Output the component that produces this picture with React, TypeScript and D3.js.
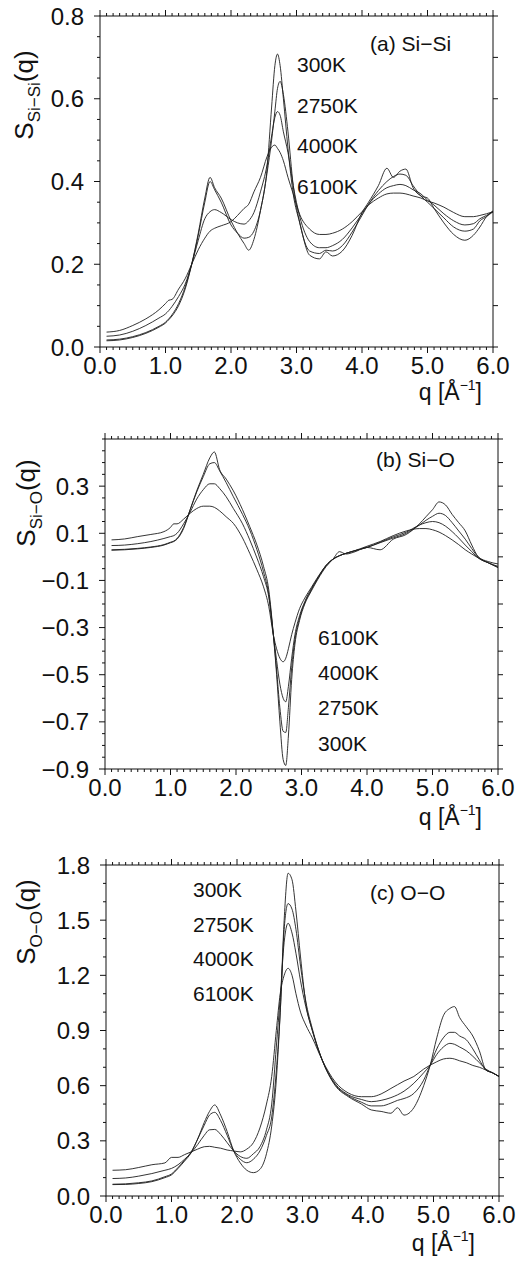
import React from "react";
import * as d3 from "d3";

const FONT = "'Liberation Sans', Arial, Helvetica, sans-serif";

// ---------------- Panel (a) Si-Si ----------------
const qA = [0.1, 0.3, 0.5, 0.7, 0.9, 1.0, 1.05, 1.1, 1.2, 1.3, 1.4, 1.5, 1.6, 1.68, 1.75, 1.85, 2.0, 2.1, 2.2, 2.27, 2.35, 2.45, 2.55, 2.62, 2.67, 2.71, 2.75, 2.8, 2.87, 2.95, 3.05, 3.2, 3.35, 3.45, 3.55, 3.7, 3.85, 4.0, 4.1, 4.25, 4.38, 4.48, 4.58, 4.67, 4.78, 4.9, 5.0, 5.1, 5.25, 5.4, 5.57, 5.7, 5.8, 5.9, 6.0];
const siSi300 = [0.015, 0.017, 0.023, 0.033, 0.048, 0.058, 0.066, 0.075, 0.1, 0.14, 0.2, 0.275, 0.36, 0.41, 0.385, 0.36, 0.305, 0.275, 0.25, 0.234, 0.26, 0.33, 0.43, 0.58, 0.68, 0.708, 0.68, 0.6, 0.48, 0.37, 0.3, 0.222, 0.213, 0.23, 0.22, 0.232, 0.27, 0.325, 0.35, 0.39, 0.432, 0.41, 0.425, 0.43, 0.385, 0.365, 0.36, 0.335, 0.3, 0.272, 0.258, 0.27, 0.29, 0.315, 0.329];
const siSi2750 = [0.017, 0.019, 0.025, 0.035, 0.05, 0.06, 0.068, 0.078, 0.105, 0.145, 0.2, 0.27, 0.35, 0.4, 0.38, 0.35, 0.295, 0.275, 0.263, 0.265, 0.28, 0.33, 0.42, 0.5, 0.57, 0.625, 0.642, 0.61, 0.52, 0.39, 0.3, 0.232, 0.226, 0.234, 0.232, 0.245, 0.278, 0.318, 0.345, 0.378, 0.4, 0.412, 0.418, 0.415, 0.39, 0.365, 0.35, 0.335, 0.312, 0.29, 0.28, 0.285, 0.305, 0.315, 0.327];
const siSi4000 = [0.026, 0.029, 0.038, 0.052, 0.07, 0.08, 0.088, 0.098, 0.122, 0.152, 0.2, 0.258, 0.31, 0.327, 0.332, 0.325, 0.308, 0.3, 0.297, 0.305, 0.325, 0.375, 0.44, 0.51, 0.555, 0.569, 0.56, 0.52, 0.47, 0.39, 0.315, 0.255, 0.24, 0.24, 0.245, 0.26, 0.288, 0.322, 0.345, 0.37, 0.385, 0.39, 0.393, 0.39, 0.38, 0.37, 0.355, 0.343, 0.322, 0.305, 0.295, 0.298, 0.31, 0.318, 0.327];
const siSi6100 = [0.036, 0.04, 0.052, 0.068, 0.09, 0.105, 0.113, 0.115, 0.14, 0.165, 0.2, 0.235, 0.263, 0.28, 0.287, 0.293, 0.303, 0.318, 0.335, 0.345, 0.375, 0.41, 0.46, 0.483, 0.488, 0.48, 0.47, 0.45, 0.41, 0.37, 0.32, 0.285, 0.272, 0.272, 0.275, 0.285, 0.303, 0.327, 0.343, 0.36, 0.37, 0.372, 0.372, 0.37, 0.365, 0.36, 0.353, 0.348, 0.338, 0.325, 0.315, 0.315, 0.318, 0.322, 0.327];

// ---------------- Panel (b) Si-O ----------------
const qB = [0.1, 0.3, 0.5, 0.7, 0.9, 1.0, 1.05, 1.1, 1.2, 1.3, 1.4, 1.5, 1.6, 1.67, 1.75, 1.85, 1.96, 2.1, 2.21, 2.32, 2.42, 2.5, 2.57, 2.62, 2.67, 2.72, 2.76, 2.8, 2.85, 2.9, 2.97, 3.05, 3.15, 3.25, 3.38, 3.48, 3.58, 3.68, 3.8, 4.0, 4.2, 4.4, 4.6, 4.8, 4.9, 5.0, 5.1, 5.2, 5.3, 5.4, 5.5, 5.6, 5.7, 5.85, 6.0];
const siO300 = [0.028, 0.03, 0.034, 0.04, 0.05, 0.06, 0.065, 0.075, 0.12, 0.2, 0.28, 0.35, 0.42, 0.445, 0.37, 0.33, 0.28, 0.2, 0.128, 0.05, -0.04, -0.14, -0.33, -0.5, -0.7, -0.86, -0.885, -0.76, -0.52, -0.37, -0.27, -0.2, -0.145, -0.095, -0.04, -0.01, 0.022, 0.012, 0.02, 0.04, 0.03, 0.075, 0.095, 0.14, 0.17, 0.2, 0.233, 0.22, 0.18, 0.145, 0.11, 0.05, 0.0, -0.02, -0.03];
const siO2750 = [0.03, 0.032, 0.036, 0.042, 0.052, 0.062, 0.067, 0.078, 0.125, 0.2, 0.275, 0.34, 0.395, 0.4, 0.365, 0.315, 0.255, 0.18, 0.114, 0.03, -0.063, -0.16, -0.33, -0.48, -0.64, -0.74, -0.745, -0.64, -0.47, -0.35, -0.26, -0.195, -0.14, -0.09, -0.035, -0.01, 0.005, 0.015, 0.025, 0.04, 0.06, 0.08, 0.1, 0.135, 0.155, 0.172, 0.185, 0.175, 0.145, 0.11, 0.075, 0.035, -0.002, -0.025, -0.04];
const siO4000 = [0.048, 0.05, 0.056, 0.065, 0.078, 0.086, 0.09, 0.1, 0.14, 0.19, 0.245, 0.285, 0.31, 0.31, 0.29, 0.255, 0.205, 0.14, 0.072, -0.005, -0.084, -0.17, -0.33, -0.44, -0.54, -0.6, -0.615, -0.55, -0.43, -0.33, -0.25, -0.19, -0.135, -0.09, -0.035, -0.01, 0.005, 0.015, 0.025, 0.04, 0.062, 0.085, 0.105, 0.135, 0.145, 0.15, 0.145, 0.13, 0.107, 0.08, 0.05, 0.022, -0.005, -0.025, -0.045];
const siO6100 = [0.072, 0.076, 0.086, 0.095, 0.107, 0.125, 0.14, 0.14, 0.16, 0.185, 0.205, 0.215, 0.215, 0.21, 0.195, 0.17, 0.142, 0.08, 0.015, -0.055, -0.127, -0.21, -0.33, -0.39, -0.43, -0.445, -0.43, -0.39, -0.33, -0.28, -0.22, -0.175, -0.13, -0.085, -0.035, -0.01, 0.005, 0.015, 0.025, 0.045, 0.065, 0.09, 0.11, 0.12, 0.12, 0.115, 0.105, 0.09, 0.072, 0.052, 0.03, 0.012, -0.005, -0.025, -0.045];

// ---------------- Panel (c) O-O ----------------
const qC = [0.1, 0.3, 0.5, 0.7, 0.9, 1.0, 1.1, 1.2, 1.3, 1.4, 1.5, 1.58, 1.66, 1.75, 1.85, 1.95, 2.05, 2.15, 2.25, 2.35, 2.45, 2.53, 2.6, 2.66, 2.72, 2.78, 2.84, 2.9, 2.97, 3.05, 3.15, 3.3, 3.5, 3.7, 3.9, 4.05, 4.2, 4.35, 4.45, 4.55, 4.7, 4.85, 4.95, 5.05, 5.15, 5.25, 5.32, 5.4, 5.5, 5.6, 5.7, 5.8, 5.9, 6.0];
const oO300 = [0.062, 0.063, 0.068, 0.078, 0.1, 0.115, 0.15, 0.19, 0.235, 0.31, 0.4, 0.46, 0.495, 0.44, 0.35, 0.245, 0.18, 0.14, 0.127, 0.145, 0.23, 0.38, 0.63, 1.0, 1.5, 1.755, 1.72, 1.55, 1.3, 1.05, 0.9, 0.74, 0.6, 0.54, 0.5, 0.468, 0.46, 0.45, 0.48, 0.44, 0.48, 0.6, 0.712, 0.86, 0.98, 1.02, 1.03, 0.97, 0.92, 0.87, 0.79, 0.685, 0.67, 0.65];
const oO2750 = [0.064, 0.066, 0.072, 0.082, 0.105, 0.12, 0.155, 0.195, 0.24, 0.31, 0.385, 0.44, 0.455, 0.41, 0.33, 0.245, 0.2, 0.181, 0.2, 0.245, 0.33, 0.43, 0.68, 1.0, 1.45, 1.59, 1.56, 1.45, 1.25, 1.06, 0.91, 0.74, 0.605, 0.545, 0.51, 0.49, 0.49, 0.505, 0.52, 0.53, 0.558, 0.63, 0.712, 0.8, 0.86, 0.89, 0.89, 0.87, 0.85, 0.8, 0.74, 0.685, 0.67, 0.65];
const oO4000 = [0.095, 0.098, 0.108, 0.122, 0.14, 0.15, 0.17, 0.2, 0.235, 0.28, 0.33, 0.36, 0.362, 0.335, 0.29, 0.245, 0.215, 0.205, 0.23, 0.268, 0.36, 0.5, 0.81, 1.08, 1.38, 1.483, 1.43, 1.32, 1.17, 1.03, 0.9, 0.74, 0.61, 0.55, 0.525, 0.513, 0.52, 0.535, 0.55, 0.57, 0.613, 0.67, 0.712, 0.77, 0.81, 0.83, 0.825, 0.81, 0.79, 0.76, 0.725, 0.69, 0.67, 0.65];
const oO6100 = [0.14, 0.143, 0.155, 0.17, 0.18, 0.21, 0.21, 0.225, 0.24, 0.255, 0.268, 0.27, 0.265, 0.26, 0.25, 0.245, 0.24, 0.255, 0.29, 0.37, 0.5, 0.65, 0.9, 1.1, 1.2, 1.238, 1.2, 1.1, 1.0, 0.93, 0.86, 0.74, 0.62, 0.56, 0.54, 0.54, 0.555, 0.585, 0.605, 0.625, 0.65, 0.69, 0.712, 0.73, 0.745, 0.749, 0.745, 0.735, 0.725, 0.71, 0.7, 0.685, 0.67, 0.65];

// ---------------- Axis labels ----------------
const xTickLabels = [0, 1, 2, 3, 4, 5, 6];
const yTicksA = [0, 0.2, 0.4, 0.6, 0.8];
const yTicksB = [-0.9, -0.7, -0.5, -0.3, -0.1, 0.1, 0.3];
const yTicksC = [0, 0.3, 0.6, 0.9, 1.2, 1.5, 1.8];
const tempsA = ["300K", "2750K", "4000K", "6100K"];
const tempsB = ["6100K", "4000K", "2750K", "300K"];
const tempsC = ["300K", "2750K", "4000K", "6100K"];

type Cfg = {
  left: number; right: number; top: number; bottom: number;
  yDomain: [number, number];
  yTicks: number[];
  yMinorStep: number;
  yRightStep: number;
  q: number[];
  series: number[][];
  title: string;
  titleX: number; titleY: number;
  temps: string[];
  tempX: number; tempY: number[];
  sub: string;
  yTitleX: number; yTitleY: number;
  xTitleRight: number; xTitleY: number;
};

const panels: Cfg[] = [
  {
    left: 100, right: 493, top: 16, bottom: 347,
    yDomain: [0, 0.8], yTicks: yTicksA, yMinorStep: 0.05, yRightStep: 0.1,
    q: qA, series: [siSi300, siSi2750, siSi4000, siSi6100],
    title: "(a) Si\u2212Si", titleX: 370, titleY: 51,
    temps: tempsA, tempX: 297, tempY: [72, 113, 153, 194],
    sub: "Si\u2212Si", yTitleX: 33, yTitleY: 95,
    xTitleRight: 482, xTitleY: 400,
  },
  {
    left: 105, right: 498, top: 439, bottom: 769,
    yDomain: [-0.9, 0.5], yTicks: yTicksB, yMinorStep: 0.05, yRightStep: 0.1,
    q: qB, series: [siO300, siO2750, siO4000, siO6100],
    title: "(b) Si\u2212O", titleX: 376, titleY: 467,
    temps: tempsB, tempX: 318, tempY: [645, 680, 715, 751],
    sub: "Si\u2212O", yTitleX: 35, yTitleY: 503,
    xTitleRight: 482, xTitleY: 825,
  },
  {
    left: 106, right: 499, top: 865, bottom: 1196,
    yDomain: [0, 1.8], yTicks: yTicksC, yMinorStep: 0.1, yRightStep: 0.1,
    q: qC, series: [oO300, oO2750, oO4000, oO6100],
    title: "(c) O\u2212O", titleX: 370, titleY: 900,
    temps: tempsC, tempX: 193, tempY: [897, 932, 966, 1001],
    sub: "O\u2212O", yTitleX: 35, yTitleY: 922,
    xTitleRight: 475, xTitleY: 1251,
  },
];

const INK = "#111";
const fmt = d3.format(".1f");

function steps(a: number, b: number, s: number): number[] {
  const n = Math.round((b - a) / s);
  return d3.range(n + 1).map((i) => Math.round((a + i * s) * 1000) / 1000);
}

function Panel({ c }: { c: Cfg }) {
  const x = d3.scaleLinear().domain([0, 6]).range([c.left, c.right]);
  const y = d3.scaleLinear().domain(c.yDomain).range([c.bottom, c.top]);
  const line = d3
    .line<number>()
    .x((_, i) => x(c.q[i]))
    .y((d) => y(d))
    .curve(d3.curveMonotoneX);

  const xMinor = steps(0, 6, 0.1);
  const yMinor = steps(c.yDomain[0], c.yDomain[1], c.yMinorStep);
  const yRight = steps(c.yDomain[0], c.yDomain[1], c.yRightStep);
  const isMajorY = (v: number) => c.yTicks.some((t) => Math.abs(t - v) < 1e-6);
  const isMajorX = (v: number) => Math.abs(v - Math.round(v)) < 1e-6;

  return (
    <g>
      {c.series.map((s, i) => (
        <path key={i} d={line(s) || ""} fill="none" stroke="#1e1e1e" strokeWidth={0.9} strokeLinejoin="round" />
      ))}
      <rect x={c.left} y={c.top} width={c.right - c.left} height={c.bottom - c.top} fill="none" stroke={INK} strokeWidth={1} />
      {xMinor.map((v) => {
        const len = isMajorX(v) ? 6 : 3;
        return (
          <g key={"x" + v}>
            <line x1={x(v)} x2={x(v)} y1={c.bottom} y2={c.bottom + len} stroke={INK} strokeWidth={1} />
            <line x1={x(v)} x2={x(v)} y1={c.top} y2={c.top - len} stroke={INK} strokeWidth={1} />
          </g>
        );
      })}
      {yMinor.map((v) => (
        <line key={"yl" + v} x1={c.left} x2={c.left - (isMajorY(v) ? 6 : 3)} y1={y(v)} y2={y(v)} stroke={INK} strokeWidth={1} />
      ))}
      {yRight.map((v) => (
        <line key={"yr" + v} x1={c.right} x2={c.right + 5} y1={y(v)} y2={y(v)} stroke={INK} strokeWidth={1} />
      ))}
      {xTickLabels.map((v) => (
        <text key={"xl" + v} x={x(v)} y={c.bottom + 27} textAnchor="middle" fontSize={24} fontFamily={FONT} fill={INK}>
          {fmt(v)}
        </text>
      ))}
      {c.yTicks.map((v) => (
        <text key={"ylab" + v} x={c.left - 16} y={y(v)} dy="0.36em" textAnchor="end" fontSize={24} fontFamily={FONT} fill={INK}>
          {fmt(v)}
        </text>
      ))}
      <text transform={`translate(${c.yTitleX},${c.yTitleY}) rotate(-90)`} textAnchor="middle" fontSize={26} fontFamily={FONT} fill={INK}>
        S
        <tspan fontSize={17} dy={7}>{c.sub}</tspan>
        <tspan fontSize={26} dy={-7}>(q)</tspan>
      </text>
      <text x={c.xTitleRight} y={c.xTitleY} textAnchor="end" fontSize={23} fontFamily={FONT} fill={INK}>
        q [Å
        <tspan fontSize={14} dy={-10}>{"\u22121"}</tspan>
        <tspan dy={10}>]</tspan>
      </text>
      <text x={c.titleX} y={c.titleY} fontSize={21} fontFamily={FONT} fill={INK}>
        {c.title}
      </text>
      {c.temps.map((t, i) => (
        <text key={t} x={c.tempX} y={c.tempY[i]} fontSize={21} fontFamily={FONT} fill={INK}>
          {t}
        </text>
      ))}
    </g>
  );
}

export default function App() {
  return (
    <svg
      width={519}
      height={1261}
      viewBox="0 0 519 1261"
      style={{ position: "absolute", left: 0, top: 0, background: "#fff" }}
    >
      <rect x={0} y={0} width={519} height={1261} fill="#fff" />
      {panels.map((p, i) => (
        <Panel key={i} c={p} />
      ))}
    </svg>
  );
}
